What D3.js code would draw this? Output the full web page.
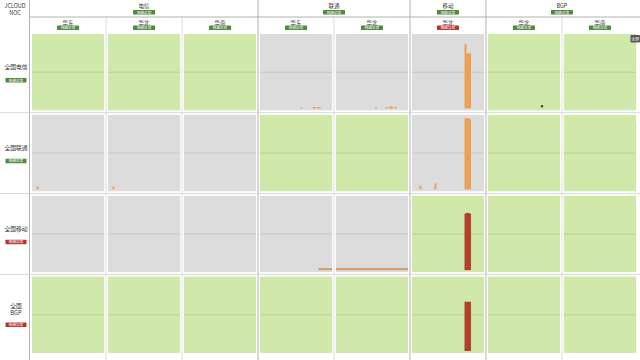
<!DOCTYPE html>
<html><head><meta charset="utf-8">
<script src="https://cdn.jsdelivr.net/npm/d3@7"></script>
<style>html,body{margin:0;padding:0;background:#fff;}svg{display:block;}</style>
</head><body>
<svg id="c" width="640" height="360"></svg>
<script>
// ---------- data ----------
const groups = ["电信", "联通", "移动", "BGP"];
const groupStatus = ["ok", "ok", "ok", "ok"];
const subRegions = ["华东", "华北", "华南", "华东", "华北", "华北", "华北", "华南"];
const colGroup = ["电信", "电信", "电信", "联通", "联通", "移动", "BGP", "BGP"];
const subStatus = ["ok", "ok", "ok", "ok", "ok", "alert", "ok", "ok"];
const rowLabels = [["全国电信"], ["全国联通"], ["全国移动"], ["全国", "BGP"]];
const rowStatus = ["ok", "ok", "alert", "alert"];
// 1 = healthy (green), 0 = degraded (gray)
const cellStatus = [
  [1, 1, 1, 0, 0, 0, 1, 1],
  [0, 0, 0, 1, 1, 0, 1, 1],
  [0, 0, 0, 0, 0, 1, 1, 1],
  [1, 1, 1, 1, 1, 1, 1, 1]
];
const badgeText = { ok: "网络正常", alert: "网络异常" };
const slots = 48;
// packet-loss bars: [row, col, slot, value(%), kind]
const lossBars = [
  [0, 3, 27, 2, "warn"], [0, 3, 35, 2, "warn"], [0, 3, 36, 2, "warn"], [0, 3, 38, 2, "warn"], [0, 3, 39, 2, "warn"],
  [0, 4, 26, 2, "warn"], [0, 4, 33, 2, "warn"], [0, 4, 35, 2, "warn"], [0, 4, 36, 3, "warn"], [0, 4, 37, 2, "warn"], [0, 4, 39, 2, "warn"],
  [0, 5, 35, 89, "warn"], [0, 5, 36, 76, "warn"], [0, 5, 37, 76, "warn"], [0, 5, 38, 76, "warn"],
  [1, 0, 3, 4, "warn"], [1, 1, 3, 4, "warn"],
  [1, 5, 5, 5, "warn"], [1, 5, 15, 8, "warn"],
  [1, 5, 35, 98, "warn"], [1, 5, 36, 98, "warn"], [1, 5, 37, 98, "warn"], [1, 5, 38, 97, "warn"],
  [2, 5, 35, 78, "loss"], [2, 5, 36, 79, "loss"], [2, 5, 37, 79, "loss"], [2, 5, 38, 78, "loss"],
  [3, 5, 35, 68, "loss"], [3, 5, 36, 68, "loss"], [3, 5, 37, 68, "loss"], [3, 5, 38, 68, "loss"]
];
// sustained low loss: [row, col, startSlot, endSlot, value(%)]
const lossSegments = [
  [2, 3, 39, 48, 2], [2, 4, 0, 48, 2]
];
// latency spike markers: [row, col, slot, value(%)]
const latencyPoints = [[0, 6, 36, 3]];

// ---------- drawing ----------
const svg = d3.select("#c");
const font = "'Noto Sans CJK SC','Noto Sans',sans-serif";
const colors = { ok: "#4d8a3c", alert: "#b8342f", green: "#d0e8aa", gray: "#dcdcdc",
  warn: "#eba155", loss: "#b23e2c", text: "#333" };

const xCol = d3.scaleBand().domain(d3.range(subRegions.length)).range([32, 636]).paddingInner(0.05);
const yRow = d3.scaleBand().domain(d3.range(rowLabels.length)).range([34, 353]).paddingInner(0.055);
const bw = xCol.bandwidth(), bh = yRow.bandwidth();
const x = d3.scaleLinear().domain([0, slots]).range([0, bw]);
const y = d3.scaleLinear().domain([0, 100]).range([bh - 2, 2]);

function badge(g, cx, cy, status, w, h) {
  g.append("rect").attr("x", cx - w / 2).attr("y", cy - h / 2).attr("width", w).attr("height", h)
    .attr("rx", 0.6).attr("fill", colors[status]);
  g.append("text").attr("x", cx).attr("y", cy + 1.4).attr("text-anchor", "middle")
    .attr("font-size", 3.6).attr("font-family", font).attr("fill", "#fff").text(badgeText[status]);
}

// grid lines
const lines = svg.append("g");
const gapX = i => xCol(i) - (xCol.step() - bw) / 2;
const gapY = r => yRow(r) - (yRow.step() - bh) / 2;
d3.range(1, subRegions.length).forEach(i => {
  const isGroupEdge = colGroup[i] !== colGroup[i - 1];
  lines.append("line").attr("x1", gapX(i)).attr("x2", gapX(i))
    .attr("y1", isGroupEdge ? 0 : 17).attr("y2", 360)
    .attr("stroke", isGroupEdge ? "#a0a0a0" : "#d4d4d4").attr("stroke-width", 0.8);
});
lines.append("line").attr("x1", 29.5).attr("x2", 29.5).attr("y1", 0).attr("y2", 360).attr("stroke", "#a0a0a0").attr("stroke-width", 0.8);
lines.append("line").attr("x1", 29.5).attr("x2", 640).attr("y1", 17).attr("y2", 17).attr("stroke", "#a0a0a0").attr("stroke-width", 0.8);
d3.range(1, rowLabels.length).forEach(r => {
  lines.append("line").attr("x1", 0).attr("x2", 640).attr("y1", gapY(r)).attr("y2", gapY(r))
    .attr("stroke", "#cfcfcf").attr("stroke-width", 0.8);
});

// header
const hdr = svg.append("g").attr("font-family", font).attr("fill", colors.text).attr("font-size", 5.5);
hdr.append("text").attr("x", 15).attr("y", 8).attr("text-anchor", "middle").text("JCLOUD");
hdr.append("text").attr("x", 15).attr("y", 14.5).attr("text-anchor", "middle").text("NOC");
groups.forEach((gname, gi) => {
  const idx = d3.range(colGroup.length).filter(i => colGroup[i] === gname);
  const cx = (xCol(idx[0]) + xCol(idx[idx.length - 1]) + bw) / 2;
  hdr.append("text").attr("x", cx).attr("y", 8).attr("text-anchor", "middle").text(gname);
  badge(hdr, cx, 12.3, groupStatus[gi], 22, 4.4);
});
subRegions.forEach((s, i) => {
  const cx = xCol(i) + bw / 2;
  hdr.append("text").attr("x", cx).attr("y", 24.5).attr("text-anchor", "middle").text(s);
  badge(hdr, cx, 27.8, subStatus[i], 22, 4.4);
});

// row labels
rowLabels.forEach((lab, r) => {
  const cy = yRow(r) + bh / 2;
  const g = svg.append("g").attr("font-family", font).attr("fill", colors.text).attr("font-size", 5.8);
  if (lab.length === 1) {
    g.append("text").attr("x", 16).attr("y", cy - 3).attr("text-anchor", "middle").text(lab[0]);
    badge(g, 16, cy + 8, rowStatus[r], 21, 4.4);
  } else {
    g.append("text").attr("x", 16).attr("y", cy - 7).attr("text-anchor", "middle").text(lab[0]);
    g.append("text").attr("x", 16).attr("y", cy + 0.5).attr("text-anchor", "middle").text(lab[1]);
    badge(g, 16, cy + 10, rowStatus[r], 21, 4.4);
  }
});

// panels
const panels = svg.append("g");
cellStatus.forEach((row, r) => row.forEach((st, c) => {
  const g = panels.append("g").attr("transform", `translate(${xCol(c)},${yRow(r)})`);
  g.append("rect").attr("width", bw).attr("height", bh).attr("fill", st ? colors.green : colors.gray);
  g.append("line").attr("x1", 0).attr("x2", bw).attr("y1", y(50)).attr("y2", y(50))
    .attr("stroke", st ? "#b3cc8e" : "#c2c2c2").attr("stroke-width", 0.8);
  lossSegments.filter(d => d[0] === r && d[1] === c).forEach(d => {
    g.append("rect").attr("x", x(d[2])).attr("width", x(d[3]) - x(d[2]))
      .attr("y", y(d[4]) - 0.5).attr("height", y(0) - y(d[4]) + 0.5).attr("fill", "#d9995a");
  });
  lossBars.filter(d => d[0] === r && d[1] === c).forEach(d => {
    g.append("rect").attr("x", x(d[2])).attr("width", x(d[2] + 1) - x(d[2]) + 0.5)
      .attr("y", y(d[3])).attr("height", y(0) - y(d[3])).attr("fill", colors[d[4]]);
  });
  latencyPoints.filter(d => d[0] === r && d[1] === c).forEach(d => {
    g.append("circle").attr("cx", x(d[2])).attr("cy", y(d[3])).attr("r", 1.2).attr("fill", "#444");
  });
}));

// corner button
svg.append("rect").attr("x", 630.5).attr("y", 35).attr("width", 9.5).attr("height", 7.5).attr("rx", 1).attr("fill", "#555");
svg.append("text").attr("x", 635.3).attr("y", 40.5).attr("text-anchor", "middle").attr("font-size", 4)
  .attr("font-family", font).attr("fill", "#fff").text("全屏");
</script>
</body></html>
